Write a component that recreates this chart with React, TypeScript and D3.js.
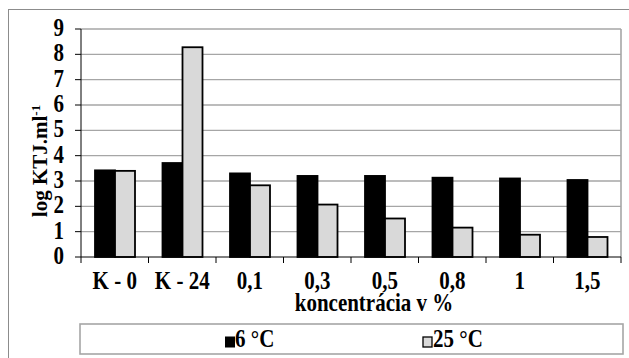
import * as d3 from "d3"
import React from "react"

const categories = ["K - 0", "K - 24", "0,1", "0,3", "0,5", "0,8", "1", "1,5"]
const series6 = [3.42, 3.71, 3.3, 3.2, 3.2, 3.13, 3.1, 3.04]
const series25 = [3.4, 8.28, 2.83, 2.07, 1.52, 1.16, 0.88, 0.79]
const seriesNames = ["6 °C", "25 °C"]
const yTicks = [0, 1, 2, 3, 4, 5, 6, 7, 8, 9]

const W = 629, H = 358
const m = { left: 81, right: 621, top: 29, bottom: 257 }
const font = "'Liberation Serif', 'Times New Roman', serif"
const FS = 21
const SY = 1.18 // the picture is a little stretched vertically

// bold text stretched vertically around its baseline
function T({ x, y, anchor = "start", size = FS, children }: any) {
    return (
        <text transform={`translate(${x},${y}) scale(1,${SY})`} textAnchor={anchor}
            fontSize={size} fontWeight="bold" fill="#000">{children}</text>
    )
}

export default function App() {
    const x = d3.scaleBand().domain(categories).range([m.left, m.right])
    const inner = d3.scaleBand().domain(seriesNames).range([14, 54])
    const y = d3.scaleLinear().domain([0, 9]).range([m.bottom, m.top])

    const rows = categories.map((c, i) => ({ c, vals: [series6[i], series25[i]] }))
    const fills = ["#000000", "#d9d9d9"]

    return (
        <div style={{ position: "absolute", left: 0, top: 0 }}>
            <svg width={W} height={H} style={{ display: "block" }} fontFamily={font}>
                <rect x={0} y={0} width={W} height={H} fill="#fff" />
                {/* outer chart border */}
                <rect x={8.5} y={9.5} width={W + 10} height={H + 10} fill="none" stroke="#8c8c8c" />

                {/* grid lines */}
                {yTicks.slice(1).map(t => (
                    <line key={t} x1={m.left} x2={m.right} y1={y(t)} y2={y(t)} stroke="#a6a6a6" strokeWidth={1.3} />
                ))}
                <line x1={m.right} x2={m.right} y1={m.top} y2={m.bottom} stroke="#a6a6a6" strokeWidth={1.6} />

                {/* bars */}
                {rows.map(r => (
                    <g key={r.c} transform={`translate(${x(r.c)},0)`}>
                        {r.vals.map((v, j) => (
                            <rect key={j} x={inner(seriesNames[j])} y={y(v)} width={inner.bandwidth()}
                                height={y(0) - y(v)} fill={fills[j]} stroke="#000" strokeWidth={1.8} />
                        ))}
                    </g>
                ))}

                {/* y axis */}
                <line x1={m.left} x2={m.left} y1={m.top} y2={m.bottom} stroke="#000" strokeWidth={1} />
                {yTicks.map(t => (
                    <g key={t}>
                        <line x1={m.left - 6} x2={m.left} y1={y(t)} y2={y(t)} stroke="#000" />
                        <T x={64} y={y(t) + 7} anchor="end">{t}</T>
                    </g>
                ))}

                {/* x axis */}
                <line x1={m.left} x2={m.right} y1={m.bottom} y2={m.bottom} stroke="#000" />
                {categories.map((c, i) => (
                    <line key={i} x1={x(c)} x2={x(c)} y1={m.bottom} y2={m.bottom + 6} stroke="#000" />
                ))}
                <line x1={m.right} x2={m.right} y1={m.bottom} y2={m.bottom + 6} stroke="#000" />
                {categories.map(c => (
                    <T key={c} x={x(c)! + x.bandwidth() / 2} y={289} anchor="middle">{c}</T>
                ))}
                <T x={374} y={311} anchor="middle">koncentrácia v %</T>

                {/* y title */}
                <text transform="translate(47,161) rotate(-90)" textAnchor="middle" fontSize={21} fontWeight="bold">
                    log KTJ.ml<tspan dy={-7} fontSize={13}>-1</tspan>
                </text>

                {/* legend */}
                <rect x={80} y={324} width={543} height={30} fill="#fff" stroke="#a6a6a6" strokeWidth={1.6} />
                <rect x={225.5} y={337} width={9} height={10} fill="#000" stroke="#000" />
                <T x={235} y={347}>{seriesNames[0]}</T>
                <rect x={423} y={337} width={9} height={10} fill="#d9d9d9" stroke="#000" strokeWidth={1.3} />
                <T x={433} y={347}>{seriesNames[1]}</T>
            </svg>
        </div>
    )
}
